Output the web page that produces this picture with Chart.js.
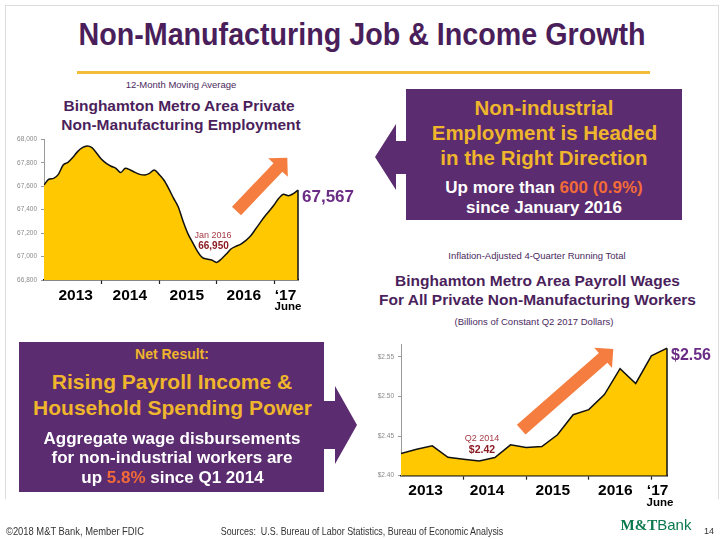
<!DOCTYPE html>
<html>
<head>
<meta charset="utf-8">
<script src="https://cdn.jsdelivr.net/npm/chart.js@4.4.1/dist/chart.umd.min.js"></script>
<style>
  body { margin: 0; background: #fff; }
  #slide { position: relative; width: 723px; height: 539px; overflow: hidden; font-family: "Liberation Sans", Arial, sans-serif; }
  #frame { position: absolute; left: 5px; top: 5px; width: 712px; height: 493px; border: 1.5px solid #dcdcdc; border-bottom: none; }
  .t { position: absolute; white-space: nowrap; line-height: 1; transform: translate(-50%, -50%); }
  .b { font-weight: bold; }
  .purple { color: #4b1f5c; }
  .gold { color: #efb52c; }
  .white { color: #fff; }
  .orange { color: #f26b38; }
  .box { position: absolute; background: #5b2c6f; }
  canvas { position: absolute; }
  svg { position: absolute; left: 0; top: 0; }
</style>
</head>
<body>
<div id="slide">
  <div id="frame"></div>

  <div class="t b" data-w="567" style="left:362px; top:34px; font-size:32px; color:#4a1e5a;">Non-Manufacturing Job &amp; Income Growth</div>
  <div style="position:absolute; left:77px; top:71px; width:573px; height:3px; background:#f2be3a;"></div>

  <!-- top chart headings -->
  <div class="t" style="left:181px; top:84.5px; font-size:9.5px; color:#4a2a5e;">12-Month Moving Average</div>
  <div class="t b purple" style="left:179px; top:105.5px; font-size:15.5px;">Binghamton Metro Area Private</div>
  <div class="t b purple" style="left:181px; top:124.5px; font-size:15.5px;">Non-Manufacturing Employment</div>

  <canvas id="empChart" width="305" height="185" style="left:0; top:130px;"></canvas>

  <div class="t b" style="left:328px; top:196px; font-size:17px; color:#6b2c85;">67,567</div>
  <div class="t" style="left:213px; top:234.5px; font-size:9px; color:#a63a46;">Jan 2016</div>
  <div class="t b" style="left:213.5px; top:245.5px; font-size:10px; color:#8b1c24;">66,950</div>
  <div class="t b" style="left:288px; top:307px; font-size:11.5px; color:#000;">June</div>

  <!-- top right box -->
  <div class="box" style="left:406px; top:89px; width:276px; height:131px;"></div>
  <div class="t b gold" style="left:544px; top:107.5px; font-size:20.5px;">Non-industrial</div>
  <div class="t b gold" style="left:544.5px; top:132.5px; font-size:20.5px;">Employment is Headed</div>
  <div class="t b gold" style="left:544px; top:157.5px; font-size:20.5px;">in the Right Direction</div>
  <div class="t b white" style="left:544px; top:186.5px; font-size:17px;">Up more than <span class="orange">600 (0.9%)</span></div>
  <div class="t b white" style="left:544px; top:206.5px; font-size:17px;">since January 2016</div>

  <!-- bottom right headings -->
  <div class="t" style="left:537px; top:256px; font-size:9.5px; color:#4a2a5e;">Inflation-Adjusted 4-Quarter Running Total</div>
  <div class="t b purple" style="left:537.5px; top:281px; font-size:15.5px;">Binghamton Metro Area Payroll Wages</div>
  <div class="t b purple" style="left:537.5px; top:299.5px; font-size:15.5px;">For All Private Non-Manufacturing Workers</div>
  <div class="t" style="left:534px; top:322px; font-size:9.5px; color:#4a2a5e;">(Billions of Constant Q2 2017 Dollars)</div>

  <canvas id="wageChart" width="315" height="175" style="left:360px; top:335px;"></canvas>

  <div class="t b" style="left:691px; top:355px; font-size:16px; color:#6b2c85;">$2.56</div>
  <div class="t" style="left:482px; top:437.5px; font-size:9px; color:#a63a46;">Q2 2014</div>
  <div class="t b" style="left:482px; top:449px; font-size:10.5px; color:#8b1c24;">$2.42</div>
  <div class="t b" style="left:660px; top:503px; font-size:11.5px; color:#000;">June</div>

  <!-- bottom left box -->
  <div class="box" style="left:19px; top:342px; width:305px; height:150px;"></div>
  <div class="t b gold" style="left:172px; top:354px; font-size:14px;">Net Result:</div>
  <div class="t b gold" style="left:172px; top:381px; font-size:21px;">Rising Payroll Income &amp;</div>
  <div class="t b gold" style="left:172.5px; top:407px; font-size:21px;">Household Spending Power</div>
  <div class="t b white" style="left:172px; top:438px; font-size:17px;">Aggregate wage disbursements</div>
  <div class="t b white" style="left:172px; top:457px; font-size:17px;">for non-industrial workers are</div>
  <div class="t b white" style="left:172.5px; top:476.5px; font-size:17px;">up <span class="orange">5.8%</span> since Q1 2014</div>

  <svg id="shapes" width="723" height="539"></svg>

  <!-- footer -->
  <div class="t" data-w="138" style="left:75px; top:531px; font-size:11px; color:#333;">©2018 M&amp;T Bank, Member FDIC</div>
  <div class="t" data-w="283" style="left:361.5px; top:531px; font-size:11px; color:#333;">Sources:&nbsp; U.S. Bureau of Labor Statistics, Bureau of Economic Analysis</div>
  <div class="t" style="left:656px; top:525px; font-size:15px; color:#0a7a4e;"><span style="font-family:'Liberation Serif',serif; font-weight:bold;">M&amp;T</span>Bank</div>
  <div class="t" style="left:709px; top:531px; font-size:9px; color:#333;">14</div>
</div>

<script>
// Binghamton private non-manufacturing employment, 12-month moving average, Jan 2013 - Jun 2017
const monthNames = ['Jan','Feb','Mar','Apr','May','Jun','Jul','Aug','Sep','Oct','Nov','Dec'];
const empMonths = [];
for (const yr of [2013, 2014, 2015, 2016, 2017])
	for (const m of monthNames)
		if (empMonths.length < 54) empMonths.push(m + ' ' + yr);

const empValues = [
	67610, 67659, 67667, 67701, 67781, 67804, 67844, 67895, 67929, 67943,
	67929, 67881, 67829, 67795, 67770, 67753, 67716, 67753, 67738, 67718,
	67701, 67696, 67710, 67738, 67701, 67653, 67582, 67500, 67425, 67303,
	67198, 67121, 67047, 66993, 66979, 66970, 66950, 66979, 67019, 67064,
	67087, 67104, 67133, 67170, 67226, 67283, 67340, 67389, 67440, 67497,
	67531, 67519, 67536, 67567
];

// payroll wages, billions of constant Q2 2017 dollars, Q1 2013 - Q2 2017
const wageQuarters = [
	'Q1 2013','Q2 2013','Q3 2013','Q4 2013','Q1 2014','Q2 2014','Q3 2014','Q4 2014',
	'Q1 2015','Q2 2015','Q3 2015','Q4 2015','Q1 2016','Q2 2016','Q3 2016','Q4 2016',
	'Q1 2017','Q2 2017'
];
const wageValues = [
	2.428, 2.4335, 2.4377, 2.4233, 2.4208, 2.4186, 2.4229, 2.439, 2.4356, 2.4369,
	2.4517, 2.4771, 2.4835, 2.5025, 2.5352, 2.5165, 2.5513, 2.561
];

const yearLabels = ['2013', '2014', '2015', '2016', '\u201817'];

const FONT = '"Liberation Sans", Arial, sans-serif';
const AREA = '#ffc800';

// index where each year starts, and where its label sits
const empYearStarts = [12, 24, 36, 48];
const empLabelAt = [6.6, 17.9, 29.8, 41.7, 50.4];
const wageYearStarts = [4, 8, 12, 16];
const wageLabelAt = [1.57, 5.5, 9.7, 13.7, 16.4];

// narrow fonts are not installed: squeeze those lines to their width
document.querySelectorAll('[data-w]').forEach(el =>
{
	const k = parseFloat(el.dataset.w) / el.offsetWidth;
	el.style.transform = `translate(-50%, -50%) scaleX(${k.toFixed(3)})`;
});

// strokes the vertical edge of the area at its last point
const areaEdge = {
	id: 'areaEdge',
	afterDatasetsDraw(chart)
	{
		const pts = chart.getDatasetMeta(0).data;
		const last = pts[pts.length - 1];
		const ctx = chart.ctx;
		ctx.save();
		ctx.strokeStyle = '#111';
		ctx.lineWidth = 1.5;
		ctx.beginPath();
		ctx.moveTo(last.x, last.y);
		ctx.lineTo(last.x, chart.chartArea.bottom);
		ctx.stroke();
		ctx.restore();
	}
};

function yearAxis(maxIndex, starts, labelAt)
{
	return {
		type: 'linear',
		min: 0,
		max: maxIndex,
		z: 1,
		afterBuildTicks: (scale) =>
		{
			const vals = [0, ...starts, ...labelAt, maxIndex];
			scale.ticks = vals.sort((a, b) => a - b).map(v => ({ value: v }));
		},
		afterFit: (scale) =>
		{
			scale.height = 30;
			scale.paddingLeft = 0;
			scale.paddingRight = 0;
		},
		ticks: {
			autoSkip: false,
			maxRotation: 0,
			minRotation: 0,
			padding: 2,
			color: '#000',
			font: { family: FONT, size: 15.5, weight: 'bold' },
			callback: (v) =>
			{
				const k = labelAt.indexOf(v);
				return k >= 0 ? yearLabels[k] : '';
			}
		},
		grid: {
			drawOnChartArea: false,
			tickLength: 4,
			tickWidth: 1.2,
			tickColor: (c) => starts.includes(c.tick.value) ? '#222' : 'rgba(0,0,0,0)'
		},
		border: { color: '#111', width: 1.5 }
	};
}

function valueAxis(min, max, step, fmt, width)
{
	return {
		min: min,
		max: max,
		afterFit: (scale) =>
		{
			scale.width = width;
			scale.paddingTop = 0;
			scale.paddingBottom = 0;
		},
		ticks: {
			stepSize: step,
			includeBounds: false,
			padding: 4,
			color: '#8a8a8a',
			font: { family: FONT, size: 6.5 },
			callback: fmt
		},
		grid: { drawOnChartArea: false, tickLength: 3, color: '#9a9a9a' },
		border: { color: '#9a9a9a', width: 1 }
	};
}

const empChart = new Chart(document.getElementById('empChart'),
{
	type: 'line',
	data: {
		labels: empMonths,
		datasets: [{
			data: empValues.map((v, i) => ({ x: i, y: v })),
			borderColor: '#111',
			borderWidth: 1.5,
			backgroundColor: AREA,
			fill: 'start',
			pointRadius: 0,
			cubicInterpolationMode: 'monotone'
		}]
	},
	options: {
		responsive: false,
		animation: false,
		layout: { padding: { left: 4, right: 7, top: 9.3, bottom: 5 } },
		plugins: { legend: { display: false }, tooltip: { enabled: false } },
		scales: {
			x: yearAxis(53, empYearStarts, empLabelAt),
			y: valueAxis(66800, 68000, 200, (v) => v.toLocaleString('en-US'), 40)
		}
	},
	plugins: [areaEdge]
});

const wageChart = new Chart(document.getElementById('wageChart'),
{
	type: 'line',
	data: {
		labels: wageQuarters,
		datasets: [{
			data: wageValues.map((v, i) => ({ x: i, y: v })),
			borderColor: '#111',
			borderWidth: 1.5,
			backgroundColor: AREA,
			fill: 'start',
			pointRadius: 0,
			tension: 0
		}]
	},
	options: {
		responsive: false,
		animation: false,
		layout: { padding: { left: 5, right: 8, top: 9.3, bottom: 4.3 } },
		plugins: { legend: { display: false }, tooltip: { enabled: false } },
		scales: {
			x: yearAxis(17, wageYearStarts, wageLabelAt),
			y: valueAxis(2.40, 2.566, 0.05, (v) => '$' + v.toFixed(2), 36)
		}
	},
	plugins: [areaEdge]
});

// block arrows (decoration)
function arrowPoints(x1, y1, x2, y2, shaft, head, headLen)
{
	const len = Math.hypot(x2 - x1, y2 - y1);
	const ux = (x2 - x1) / len, uy = (y2 - y1) / len;
	const nx = -uy, ny = ux;
	const bx = x2 - ux * headLen, by = y2 - uy * headLen;
	const pts = [
		[x1 + nx * shaft / 2, y1 + ny * shaft / 2],
		[bx + nx * shaft / 2, by + ny * shaft / 2],
		[bx + nx * head / 2, by + ny * head / 2],
		[x2, y2],
		[bx - nx * head / 2, by - ny * head / 2],
		[bx - nx * shaft / 2, by - ny * shaft / 2],
		[x1 - nx * shaft / 2, y1 - ny * shaft / 2]
	];
	return pts.map(p => p[0].toFixed(1) + ',' + p[1].toFixed(1)).join(' ');
}

const svg = document.getElementById('shapes');
const shapes = [
	{ pts: '375,157 396,124 396,141 407,141 407,174 396,174 396,190', fill: '#5b2c6f' },
	{ pts: '323,401 335,401 335,386 357,425 335,464 335,449 323,449', fill: '#5b2c6f' },
	{ pts: arrowPoints(236.5, 211, 287.3, 157.7, 12.3, 27, 13.5), fill: '#f47d3f' },
	{ pts: arrowPoints(521.2, 429.7, 613.3, 349, 12.9, 27, 13.5), fill: '#f47d3f' }
];
svg.innerHTML = shapes.map(s => `<polygon points="${s.pts}" fill="${s.fill}"/>`).join('');
</script>
</body>
</html>
